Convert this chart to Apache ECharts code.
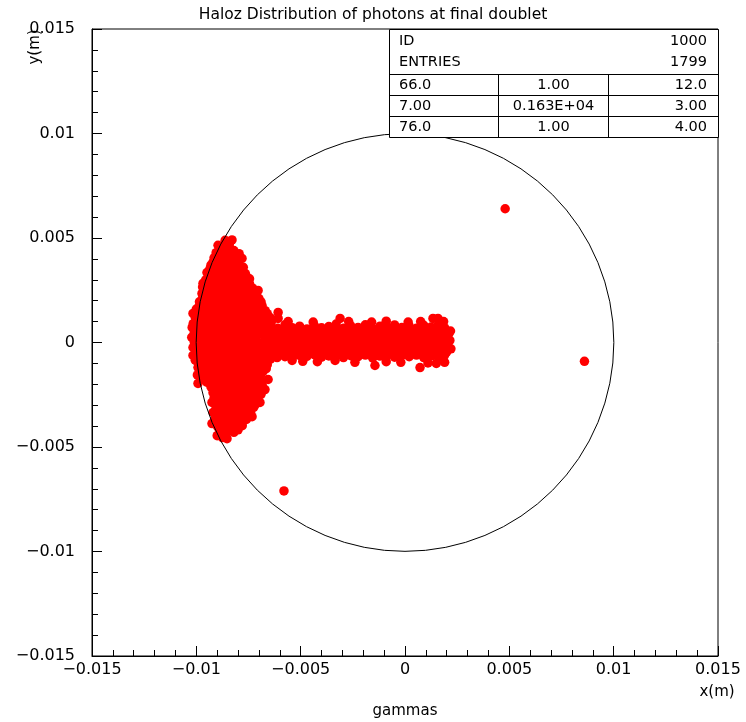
<!DOCTYPE html>
<html>
<head>
<meta charset="utf-8">
<script src="https://cdn.jsdelivr.net/npm/echarts@6/dist/echarts.min.js"></script>
<style>html,body{margin:0;padding:0;background:#fff}#c{width:746px;height:722px}</style>
</head>
<body>
<div id="c"></div>
<script>
// ---- DATA (positions in millimetres, converted to metres for the axes) ----
const titleText = "Haloz Distribution of photons at final doublet";
const xAxisName = "x(m)";
const yAxisName = "y(m)";
const bottomLabel = "gammas";
const statRows = [
  ["ID", "", "1000"],
  ["ENTRIES", "", "1799"],
  ["66.0", "1.00", "12.0"],
  ["7.00", "0.163E+04", "3.00"],
  ["76.0", "1.00", "4.00"]
];
const circleCenterX = [0];
const circleCenterY = [0];
const circleRadius = [0.01];

const fanUpper = [
  [-8.62,4.89],[-8.29,4.91],
  [-8.96,4.65],[-8.7,4.6],[-8.42,4.68],
  [-9.05,4.3],[-8.78,4.38],[-8.5,4.32],[-8.2,4.4],[-7.95,4.25],
  [-9.15,4.05],[-8.85,3.98],[-8.55,4.05],[-8.25,3.95],[-7.81,4.02],[-8.0,4.1],
  [-9.3,3.7],[-9.0,3.65],[-8.7,3.75],[-8.4,3.68],[-8.1,3.72],[-7.75,3.6],
  [-9.49,3.35],[-9.2,3.4],[-8.9,3.3],[-8.6,3.38],[-8.3,3.3],[-8.0,3.4],[-7.65,3.3],
  [-9.55,3.0],[-9.25,3.05],[-8.95,2.95],[-8.65,3.02],[-8.35,2.97],[-8.05,3.05],[-7.75,2.95],[-7.45,3.05],
  [-9.68,2.83],[-9.7,2.65],[-9.4,2.7],[-9.1,2.6],[-8.8,2.68],[-8.5,2.62],[-8.2,2.7],[-7.9,2.6],[-7.6,2.68],[-7.3,2.6],
  [-9.73,2.35],[-9.45,2.3],[-9.15,2.25],[-8.85,2.32],[-8.55,2.25],[-8.25,2.33],[-7.95,2.27],[-7.65,2.3],[-7.35,2.25],[-7.04,2.49],[-7.1,2.2],
  [-9.85,1.95],[-9.55,1.9],[-9.25,2.0],[-8.95,1.92],[-8.65,1.98],[-8.35,1.9],[-8.05,1.97],[-7.75,1.92],[-7.45,1.98],[-7.15,1.9],[-6.9,1.95],
  [-10.0,1.6],[-9.7,1.55],[-9.4,1.62],[-9.1,1.58],[-8.8,1.6],[-8.5,1.55],[-8.2,1.62],[-7.9,1.56],[-7.6,1.6],[-7.3,1.55],[-7.0,1.62],[-6.7,1.52],
  [-10.16,1.39],[-10.05,1.2],[-9.75,1.25],[-9.45,1.2],[-9.15,1.28],[-8.85,1.22],[-8.55,1.25],[-8.25,1.2],[-7.95,1.27],[-7.65,1.22],[-7.35,1.25],[-7.05,1.2],[-6.75,1.25],[-6.45,1.18]
];
const fanCore = [
  [-10.15,0.9],[-9.85,0.88],[-9.55,0.92],[-9.25,0.87],[-8.95,0.9],[-8.65,0.88],[-8.35,0.93],[-8.05,0.87],[-7.75,0.9],[-7.45,0.88],[-7.15,0.92],
  [-10.2,0.72],[-10.1,0.5],[-9.8,0.55],[-9.5,0.52],[-9.2,0.57],[-8.9,0.5],[-8.6,0.55],[-8.3,0.52],[-8.0,0.56],[-7.7,0.5],[-7.4,0.55],[-7.1,0.5],
  [-10.22,0.25],[-9.95,0.2],[-9.65,0.18],[-9.35,0.22],[-9.05,0.17],[-8.75,0.22],[-8.45,0.18],[-8.15,0.22],[-7.85,0.17],[-7.55,0.22],[-7.25,0.18],
  [-10.16,-0.24],[-10.0,-0.1],[-9.7,-0.15],[-9.4,-0.12],[-9.1,-0.17],[-8.8,-0.12],[-8.5,-0.16],[-8.2,-0.12],[-7.9,-0.17],[-7.6,-0.12],[-7.3,-0.15],
  [-10.16,-0.62],[-9.9,-0.5],[-9.6,-0.47],[-9.3,-0.52],[-9.0,-0.48],[-8.7,-0.52],[-8.4,-0.47],[-8.1,-0.52],[-7.8,-0.48],[-7.5,-0.52],[-7.2,-0.47],
  [-10.05,-0.85],[-9.75,-0.88],[-9.45,-0.83],[-9.15,-0.87],[-8.85,-0.83],[-8.55,-0.88],[-8.25,-0.83],[-7.95,-0.87],[-7.65,-0.83],[-7.35,-0.88],[-7.05,-0.83],[-6.75,-0.88],[-6.45,-0.8],[-6.13,-0.72]
];
const fanLower = [
  [-9.92,-1.2],[-9.65,-1.22],[-9.35,-1.18],[-9.05,-1.23],[-8.75,-1.18],[-8.45,-1.22],[-8.15,-1.18],[-7.85,-1.23],[-7.55,-1.18],[-7.25,-1.22],[-6.95,-1.18],[-6.65,-1.25],
  [-9.95,-1.55],[-9.6,-1.57],[-9.3,-1.52],[-9.0,-1.58],[-8.7,-1.53],[-8.4,-1.57],[-8.1,-1.52],[-7.8,-1.58],[-7.5,-1.53],[-7.2,-1.57],[-6.9,-1.52],[-6.56,-1.77],
  [-9.92,-1.96],[-9.5,-1.9],[-9.2,-1.95],[-8.9,-1.9],[-8.6,-1.97],[-8.3,-1.92],[-8.0,-1.97],[-7.7,-1.9],[-7.4,-1.95],[-7.1,-1.92],[-6.85,-2.0],
  [-9.2,-2.4],[-9.1,-2.25],[-8.8,-2.3],[-8.5,-2.25],[-8.2,-2.32],[-7.9,-2.27],[-7.6,-2.32],[-7.3,-2.27],[-7.0,-2.3],[-6.71,-2.25],
  [-9.15,-2.65],[-8.85,-2.6],[-8.55,-2.68],[-8.25,-2.62],[-7.95,-2.67],[-7.65,-2.6],[-7.35,-2.67],[-7.05,-2.62],
  [-9.25,-2.87],[-9.0,-3.0],[-8.7,-2.95],[-8.4,-3.02],[-8.1,-2.95],[-7.8,-3.0],[-7.5,-2.95],[-7.2,-3.0],[-6.95,-2.87],
  [-9.2,-3.35],[-8.9,-3.3],[-8.6,-3.35],[-8.3,-3.28],[-8.0,-3.33],[-7.7,-3.28],[-7.4,-3.35],
  [-9.1,-3.65],[-8.8,-3.7],[-8.5,-3.63],[-8.2,-3.68],[-7.9,-3.62],[-7.6,-3.68],[-7.33,-3.55],
  [-9.25,-3.88],[-9.0,-4.0],[-8.7,-4.02],[-8.4,-3.97],[-8.1,-4.03],[-7.8,-3.98],
  [-9.0,-4.46],[-8.85,-4.3],[-8.6,-4.35],[-8.38,-4.12],[-8.2,-4.3],
  [-8.53,-4.6],[-8.75,-4.55]
];
const fanFill = [
  [-8.85,4.5],[-8.55,4.48],
  [-9.0,4.17],[-8.7,4.15],[-8.4,4.19],[-8.1,4.16],
  [-9.2,3.85],[-8.9,3.83],[-8.6,3.87],[-8.3,3.84],[-8.0,3.86],
  [-9.35,3.52],[-9.05,3.5],[-8.75,3.54],[-8.45,3.51],[-8.15,3.53],[-7.85,3.5],
  [-9.4,3.17],[-9.1,3.15],[-8.8,3.19],[-8.5,3.16],[-8.2,3.18],[-7.9,3.15],[-7.6,3.17],
  [-9.55,2.82],[-9.25,2.8],[-8.95,2.84],[-8.65,2.81],[-8.35,2.83],[-8.05,2.8],[-7.75,2.84],[-7.45,2.81],
  [-9.6,2.47],[-9.3,2.45],[-9.0,2.49],[-8.7,2.46],[-8.4,2.48],[-8.1,2.45],[-7.8,2.49],[-7.5,2.46],[-7.25,2.47],
  [-9.7,2.12],[-9.4,2.1],[-9.1,2.14],[-8.8,2.11],[-8.5,2.13],[-8.2,2.1],[-7.9,2.14],[-7.6,2.11],[-7.3,2.13],[-7.0,2.1],
  [-9.85,1.77],[-9.55,1.75],[-9.25,1.79],[-8.95,1.76],[-8.65,1.78],[-8.35,1.75],[-8.05,1.79],[-7.75,1.76],[-7.45,1.78],[-7.15,1.75],[-6.85,1.77],
  [-9.9,1.42],[-9.6,1.4],[-9.3,1.44],[-9.0,1.41],[-8.7,1.43],[-8.4,1.4],[-8.1,1.44],[-7.8,1.41],[-7.5,1.43],[-7.2,1.4],[-6.9,1.44],[-6.6,1.38],
  [-10.0,1.07],[-9.7,1.05],[-9.4,1.09],[-9.1,1.06],[-8.8,1.08],[-8.5,1.05],[-8.2,1.09],[-7.9,1.06],[-7.6,1.08],[-7.3,1.05],[-7.0,1.09],[-6.7,1.04],[-6.4,1.0],
  [-10.0,0.72],[-9.7,0.7],[-9.4,0.74],[-9.1,0.71],[-8.8,0.73],[-8.5,0.7],[-8.2,0.74],[-7.9,0.71],[-7.6,0.73],[-7.3,0.7],[-7.0,0.72],
  [-10.1,0.37],[-9.8,0.35],[-9.5,0.39],[-9.2,0.36],[-8.9,0.38],[-8.6,0.35],[-8.3,0.39],[-8.0,0.36],[-7.7,0.38],[-7.4,0.35],[-7.1,0.37],
  [-10.1,0.02],[-9.8,0.0],[-9.5,0.04],[-9.2,0.01],[-8.9,0.03],[-8.6,0.0],[-8.3,0.04],[-8.0,0.01],[-7.7,0.03],[-7.4,0.0],[-7.1,0.02],
  [-10.05,-0.33],[-9.75,-0.35],[-9.45,-0.31],[-9.15,-0.34],[-8.85,-0.32],[-8.55,-0.35],[-8.25,-0.31],[-7.95,-0.34],[-7.65,-0.32],[-7.35,-0.35],[-7.05,-0.33],
  [-10.0,-0.68],[-9.7,-0.7],[-9.4,-0.66],[-9.1,-0.69],[-8.8,-0.67],[-8.5,-0.7],[-8.2,-0.66],[-7.9,-0.69],[-7.6,-0.67],[-7.3,-0.7],[-7.0,-0.68],
  [-9.9,-1.03],[-9.6,-1.05],[-9.3,-1.01],[-9.0,-1.04],[-8.7,-1.02],[-8.4,-1.05],[-8.1,-1.01],[-7.8,-1.04],[-7.5,-1.02],[-7.2,-1.05],[-6.9,-1.03],[-6.6,-1.06],
  [-9.8,-1.38],[-9.5,-1.4],[-9.2,-1.36],[-8.9,-1.39],[-8.6,-1.37],[-8.3,-1.4],[-8.0,-1.36],[-7.7,-1.39],[-7.4,-1.37],[-7.1,-1.4],[-6.8,-1.38],
  [-9.75,-1.75],[-9.35,-1.77],[-9.05,-1.73],[-8.75,-1.76],[-8.45,-1.74],[-8.15,-1.77],[-7.85,-1.73],[-7.55,-1.76],[-7.25,-1.74],[-6.95,-1.77],
  [-9.3,-2.12],[-9.0,-2.14],[-8.7,-2.1],[-8.4,-2.13],[-8.1,-2.11],[-7.8,-2.14],[-7.5,-2.1],[-7.2,-2.13],[-6.9,-2.11],
  [-9.0,-2.47],[-8.7,-2.49],[-8.4,-2.45],[-8.1,-2.48],[-7.8,-2.46],[-7.5,-2.49],[-7.2,-2.45],[-6.9,-2.48],
  [-9.0,-2.8],[-8.7,-2.82],[-8.4,-2.78],[-8.1,-2.81],[-7.8,-2.79],[-7.5,-2.82],[-7.2,-2.78],
  [-9.05,-3.12],[-8.75,-3.14],[-8.45,-3.1],[-8.15,-3.13],[-7.85,-3.11],[-7.55,-3.14],[-7.25,-3.1],
  [-9.05,-3.47],[-8.75,-3.49],[-8.45,-3.45],[-8.15,-3.48],[-7.85,-3.46],[-7.55,-3.49],
  [-9.0,-3.82],[-8.7,-3.84],[-8.4,-3.8],[-8.1,-3.83],[-7.8,-3.81],
  [-8.9,-4.17],[-8.6,-4.19],[-8.3,-4.15],[-8.0,-4.18]
];
const stem = [
  [-6.8,0.72],[-6.45,0.8],[-6.1,0.68],[-5.75,0.85],[-5.4,0.7],[-5.05,0.78],[-4.7,0.65],[-4.35,0.82],[-4.0,0.7],[-3.65,0.76],[-3.3,0.88],[-2.95,0.68],[-2.6,0.8],[-2.25,0.72],[-1.9,0.85],[-1.55,0.66],[-1.2,0.78],[-0.85,0.7],[-0.5,0.84],[-0.15,0.72],[0.2,0.8],[0.55,0.68],[0.9,0.82],[1.25,0.74],[1.6,0.86],[1.9,0.7],
  [-6.95,0.4],[-6.6,0.35],[-6.25,0.42],[-5.9,0.36],[-5.55,0.4],[-5.2,0.33],[-4.85,0.42],[-4.5,0.37],[-4.15,0.4],[-3.8,0.34],[-3.45,0.41],[-3.1,0.36],[-2.75,0.4],[-2.4,0.35],[-2.05,0.42],[-1.7,0.37],[-1.35,0.4],[-1.0,0.34],[-0.65,0.41],[-0.3,0.36],[0.05,0.4],[0.4,0.35],[0.75,0.42],[1.1,0.37],[1.45,0.4],[1.8,0.36],[2.1,0.42],
  [-6.8,0.02],[-6.45,0.06],[-6.1,-0.01],[-5.75,0.04],[-5.4,0.0],[-5.05,0.05],[-4.7,0.01],[-4.35,0.04],[-4.0,-0.02],[-3.65,0.05],[-3.3,0.0],[-2.95,0.04],[-2.6,-0.01],[-2.25,0.05],[-1.9,0.01],[-1.55,0.04],[-1.2,-0.02],[-0.85,0.05],[-0.5,0.0],[-0.15,0.04],[0.2,-0.01],[0.55,0.05],[0.9,0.01],[1.25,0.04],[1.6,-0.02],[1.95,0.03],[2.15,0.1],
  [-6.95,-0.3],[-6.6,-0.35],[-6.25,-0.28],[-5.9,-0.34],[-5.55,-0.3],[-5.2,-0.36],[-4.85,-0.29],[-4.5,-0.33],[-4.15,-0.3],[-3.8,-0.36],[-3.45,-0.29],[-3.1,-0.34],[-2.75,-0.3],[-2.4,-0.35],[-2.05,-0.28],[-1.7,-0.33],[-1.35,-0.3],[-1.0,-0.36],[-0.65,-0.29],[-0.3,-0.34],[0.05,-0.3],[0.4,-0.35],[0.75,-0.28],[1.1,-0.33],[1.45,-0.3],[1.8,-0.36],[2.1,-0.28],
  [-6.8,-0.62],[-6.45,-0.7],[-6.1,-0.6],[-5.75,-0.68],[-5.4,-0.72],[-5.05,-0.62],[-4.7,-0.66],[-4.35,-0.58],[-4.0,-0.7],[-3.65,-0.64],[-3.3,-0.6],[-2.95,-0.72],[-2.6,-0.63],[-2.25,-0.68],[-1.9,-0.6],[-1.55,-0.74],[-1.2,-0.65],[-0.85,-0.6],[-0.5,-0.7],[-0.15,-0.62],[0.2,-0.68],[0.55,-0.6],[0.9,-0.72],[1.25,-0.64],[1.6,-0.7],[1.9,-0.6]
];
const stemFill = [
  [-6.62,0.57],[-6.27,0.55],[-5.92,0.6],[-5.57,0.54],[-5.22,0.58],[-4.87,0.55],[-4.52,0.6],[-4.17,0.56],[-3.82,0.58],[-3.47,0.54],[-3.12,0.6],[-2.77,0.56],[-2.42,0.58],[-2.07,0.55],[-1.72,0.6],[-1.37,0.54],[-1.02,0.58],[-0.67,0.56],[-0.32,0.6],[0.03,0.55],[0.38,0.58],[0.73,0.54],[1.08,0.6],[1.43,0.56],[1.75,0.58],
  [-6.62,0.2],[-6.27,0.22],[-5.92,0.18],[-5.57,0.21],[-5.22,0.19],[-4.87,0.22],[-4.52,0.18],[-4.17,0.21],[-3.82,0.2],[-3.47,0.23],[-3.12,0.18],[-2.77,0.21],[-2.42,0.19],[-2.07,0.22],[-1.72,0.18],[-1.37,0.21],[-1.02,0.2],[-0.67,0.23],[-0.32,0.18],[0.03,0.21],[0.38,0.19],[0.73,0.22],[1.08,0.18],[1.43,0.21],[1.78,0.2],[2.0,0.25],
  [-6.62,-0.15],[-6.27,-0.13],[-5.92,-0.17],[-5.57,-0.14],[-5.22,-0.16],[-4.87,-0.13],[-4.52,-0.17],[-4.17,-0.14],[-3.82,-0.15],[-3.47,-0.12],[-3.12,-0.17],[-2.77,-0.14],[-2.42,-0.16],[-2.07,-0.13],[-1.72,-0.17],[-1.37,-0.14],[-1.02,-0.15],[-0.67,-0.12],[-0.32,-0.17],[0.03,-0.14],[0.38,-0.16],[0.73,-0.13],[1.08,-0.17],[1.43,-0.14],[1.78,-0.15],[2.0,-0.12],
  [-6.62,-0.48],[-6.27,-0.5],[-5.92,-0.46],[-5.57,-0.49],[-5.22,-0.47],[-4.87,-0.5],[-4.52,-0.46],[-4.17,-0.49],[-3.82,-0.48],[-3.47,-0.51],[-3.12,-0.46],[-2.77,-0.49],[-2.42,-0.47],[-2.07,-0.5],[-1.72,-0.46],[-1.37,-0.49],[-1.02,-0.48],[-0.67,-0.51],[-0.32,-0.46],[0.03,-0.49],[0.38,-0.47],[0.73,-0.5],[1.08,-0.46],[1.43,-0.49],[1.75,-0.48],[2.0,-0.45]
];
const stemEdges = [
  [-6.08,1.44],[-6.08,1.15],[-5.6,1.0],[-4.4,0.98],[-3.11,1.15],[-2.7,1.0],[-1.6,0.98],[-0.9,1.02],[0.15,0.98],[0.75,1.0],[1.34,1.15],[1.58,1.15],[1.85,1.0],
  [-5.41,-0.86],[-4.9,-0.9],[-4.2,-0.92],[-3.35,-0.86],[-2.4,-0.95],[-1.44,-1.1],[-0.9,-0.92],[-0.2,-0.95],[0.72,-1.2],[1.1,-0.98],[1.5,-1.0],[1.9,-0.95],
  [2.06,0.0],[2.2,-0.3],[2.18,0.55]
];
const outliers = [[4.8,6.4],[8.6,-0.9],[-5.8,-7.1]];

// ---- CHART ----
const mm = p => [p[0] / 1000, p[1] / 1000];
const points = [].concat(fanUpper, fanCore, fanLower, fanFill, stem, stemFill, stemEdges, outliers).map(mm);

const fmt = v => {
  if (Math.abs(v) < 1e-12) return '0';
  const s = parseFloat(Math.abs(v).toFixed(4)).toString();
  return (v < 0 ? '\u2212' : '') + s;
};
const FONT = 'DejaVu Sans';
const axisCommon = {
  type: 'value', min: -0.015, max: 0.015, interval: 0.005,
  splitLine: { show: false },
  axisLine: { show: true, onZero: false, lineStyle: { color: '#000', width: 1 } },
  axisTick: { show: true, inside: true, length: 10, lineStyle: { color: '#000' } },
  minorTick: { show: true, splitNumber: 5, length: 6, lineStyle: { color: '#000' } },
  axisLabel: { formatter: fmt, color: '#000', fontSize: 16, fontFamily: FONT, showMinLabel: true, showMaxLabel: true }
};

const chart = echarts.init(document.getElementById('c'), null, { renderer: 'canvas' });

const L = 389.5, R = 718.5, T = 29.5, B = 137.5;
const hLines = [74.5, 95.5, 116.5];
const vLines = [498.5, 608.5];
const rowY = [41, 62, 85, 106, 127];
const graphics = [];
graphics.push({ type: 'rect', shape: { x: L, y: T, width: R - L, height: B - T }, style: { fill: '#fff', stroke: '#000', lineWidth: 1 }, z: 10 });
hLines.forEach(y => graphics.push({ type: 'line', shape: { x1: L, y1: y, x2: R, y2: y }, style: { stroke: '#000', lineWidth: 1 }, z: 11 }));
vLines.forEach(x => graphics.push({ type: 'line', shape: { x1: x, y1: hLines[0], x2: x, y2: B }, style: { stroke: '#000', lineWidth: 1 }, z: 11 }));
statRows.forEach((row, i) => {
  const ts = { font: '14.5px "' + FONT + '"', fill: '#000', textVerticalAlign: 'middle' };
  graphics.push({ type: 'text', x: 399, y: rowY[i], style: Object.assign({ text: row[0], textAlign: 'left' }, ts), z: 12 });
  if (row[1]) graphics.push({ type: 'text', x: 553.5, y: rowY[i], style: Object.assign({ text: row[1], textAlign: 'center' }, ts), z: 12 });
  graphics.push({ type: 'text', x: 707, y: rowY[i], style: Object.assign({ text: row[2], textAlign: 'right' }, ts), z: 12 });
});
graphics.push({ type: 'text', x: 717, y: 692, style: { text: xAxisName, font: '15px "' + FONT + '"', fill: '#000', textAlign: 'center', textVerticalAlign: 'middle' } });
graphics.push({ type: 'text', x: 405, y: 711, style: { text: bottomLabel, font: '15px "' + FONT + '"', fill: '#000', textAlign: 'center', textVerticalAlign: 'middle' } });
graphics.push({ type: 'text', x: 35, y: 47, rotation: Math.PI / 2, style: { text: yAxisName, font: '15px "' + FONT + '"', fill: '#000', textAlign: 'center', textVerticalAlign: 'middle' } });

chart.setOption({
  animation: false,
  backgroundColor: '#fff',
  title: {
    text: titleText, left: 'center', top: 2,
    textStyle: { fontSize: 15.5, fontWeight: 'normal', fontFamily: FONT, color: '#000' }
  },
  grid: { left: 92, right: 28, top: 29, bottom: 66, show: true, borderColor: '#000', borderWidth: 1, backgroundColor: 'transparent' },
  xAxis: Object.assign({}, axisCommon, { position: 'bottom', axisLabel: Object.assign({}, axisCommon.axisLabel, { margin: 6 }) }),
  yAxis: Object.assign({}, axisCommon, { position: 'left', axisLabel: Object.assign({}, axisCommon.axisLabel, { margin: 17 }) }),
  graphic: graphics,
  series: [
    {
      type: 'scatter', data: points, symbol: 'circle', symbolSize: 9.5,
      itemStyle: { color: '#ff0000', opacity: 1 }, silent: true, z: 2
    },
    {
      type: 'custom', z: 3, silent: true,
      data: circleCenterX.map((x, i) => [x, circleCenterY[i], circleRadius[i]]),
      renderItem: (params, api) => {
        const c = api.coord([api.value(0), api.value(1)]);
        const s = api.size([api.value(2), api.value(2)]);
        return { type: 'circle', shape: { cx: c[0], cy: c[1], r: (s[0] + s[1]) / 2 }, style: { fill: 'none', stroke: '#000', lineWidth: 1 } };
      }
    }
  ]
});
</script>
</body>
</html>
